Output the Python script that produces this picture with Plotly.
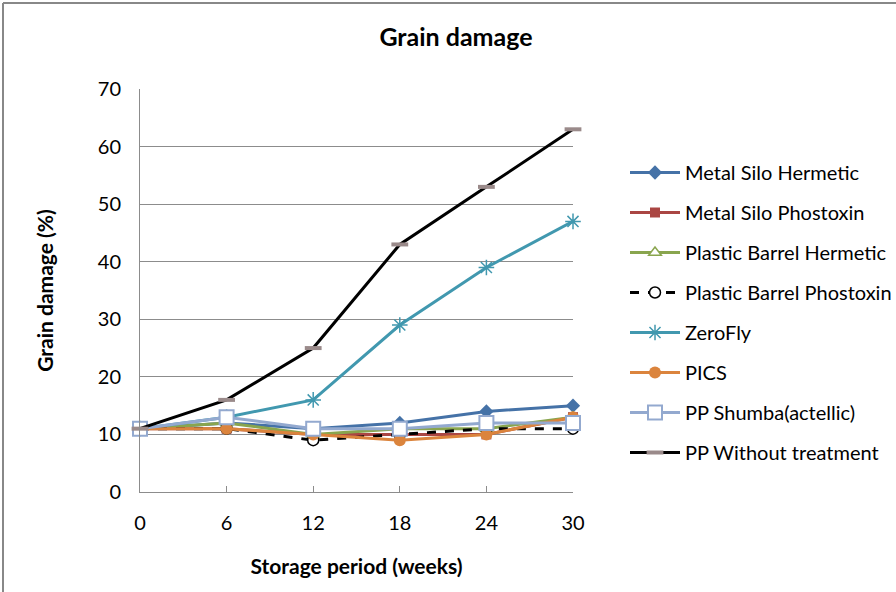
import plotly.graph_objects as go

# Storage period (weeks) and grain damage (%) per storage method
weeks = [0, 6, 12, 18, 24, 30]

metal_silo_hermetic = [11, 12, 11, 12, 14, 15]
metal_silo_phostoxin = [11, 11, 10, 10, 10, 13]
plastic_barrel_hermetic = [11, 12, 10, 11, 11, 13]
plastic_barrel_phostoxin = [11, 11, 9, 10, 11, 11]
zerofly = [11, 13, 16, 29, 39, 47]
pics = [11, 11, 10, 9, 10, 13]
pp_shumba = [11, 13, 11, 11, 12, 12]
pp_without_treatment = [11, 16, 25, 43, 53, 63]

FONT = "Lato, 'Open Sans', sans-serif"
GRID = "#8c8c8c"

series = [
    ("Metal Silo Hermetic", metal_silo_hermetic,
     dict(color="#4572A7", width=3),
     dict(symbol="diamond", size=11, color="#4572A7")),
    ("Metal Silo Phostoxin", metal_silo_phostoxin,
     dict(color="#AA4643", width=3),
     dict(symbol="square", size=10, color="#AA4643")),
    ("Plastic Barrel Hermetic", plastic_barrel_hermetic,
     dict(color="#89A54E", width=3),
     dict(symbol="triangle-up", size=11, color="white",
          line=dict(color="#89A54E", width=1.5))),
    ("Plastic Barrel Phostoxin", plastic_barrel_phostoxin,
     dict(color="black", width=3, dash="dash"),
     dict(symbol="circle", size=11, color="white",
          line=dict(color="black", width=1.5))),
    ("ZeroFly", zerofly,
     dict(color="#4198AF", width=3),
     dict(symbol="asterisk-open", size=13,
          line=dict(color="#4198AF", width=1.5))),
    ("PICS", pics,
     dict(color="#DB843D", width=3),
     dict(symbol="circle", size=12, color="#DB843D")),
    ("PP Shumba(actellic)", pp_shumba,
     dict(color="#93A9CF", width=3),
     dict(symbol="square", size=14, color="white",
          line=dict(color="#93A9CF", width=2))),
    ("PP Without treatment", pp_without_treatment,
     dict(color="black", width=3),
     dict(symbol="line-ew", size=12,
          line=dict(color="#9a8a8a", width=4))),
]

fig = go.Figure()
for i, (name, vals, line, marker) in enumerate(series):
    fig.add_trace(go.Scatter(
        x=weeks, y=vals, name=name, mode="lines+markers",
        line=line, marker=marker, cliponaxis=False,
        legendgroup=f"g{i}",
    ))

fig.update_layout(
    width=896, height=592,
    margin=dict(l=140, r=323, t=89, b=100, autoexpand=False),
    paper_bgcolor="white", plot_bgcolor="white",
    font=dict(family=FONT, size=20, color="black"),
    title=dict(text="<b>Grain damage</b>", x=456 / 896, xanchor="center",
               y=1 - 37 / 592, yanchor="middle",
               font=dict(family=FONT, size=25)),
    showlegend=True,
    legend=dict(x=(625 - 140) / 433, xanchor="left",
                y=(492 - 153) / 403, yanchor="top",
                font=dict(family=FONT, size=20),
                tracegroupgap=11, itemwidth=50,
                bgcolor="rgba(0,0,0,0)"),
    xaxis=dict(
        range=[0, 30], tickvals=weeks, ticktext=[str(w) for w in weeks],
        showgrid=False, zeroline=False,
        showline=True, linecolor=GRID, linewidth=1,
        ticks="inside", ticklen=6, tickcolor=GRID,
        ticklabelstandoff=13,
        tickfont=dict(size=20),
        title=dict(text="<b>Storage period (weeks)</b>",
                   font=dict(family=FONT, size=21), standoff=26),
    ),
    yaxis=dict(
        range=[0, 70], dtick=10,
        showgrid=True, gridcolor=GRID, gridwidth=1, zeroline=False,
        showline=True, linecolor=GRID, linewidth=1,
        ticks="", ticklabelstandoff=14,
        tickfont=dict(size=20),
        title=dict(text="<b>Grain damage (%)</b>",
                   font=dict(family=FONT, size=21), standoff=38),
    ),
)

# Outer chart frame (top and left edges)
fig.add_shape(type="line", xref="paper", yref="paper",
              x0=(3 - 140) / 433, x1=(900 - 140) / 433,
              y0=(492 - 3) / 403, y1=(492 - 3) / 403,
              line=dict(color="#888888", width=2))
fig.add_shape(type="line", xref="paper", yref="paper",
              x0=(3 - 140) / 433, x1=(3 - 140) / 433,
              y0=(492 - 3) / 403, y1=(492 - 600) / 403,
              line=dict(color="#888888", width=2))

fig.write_html("out.html")
